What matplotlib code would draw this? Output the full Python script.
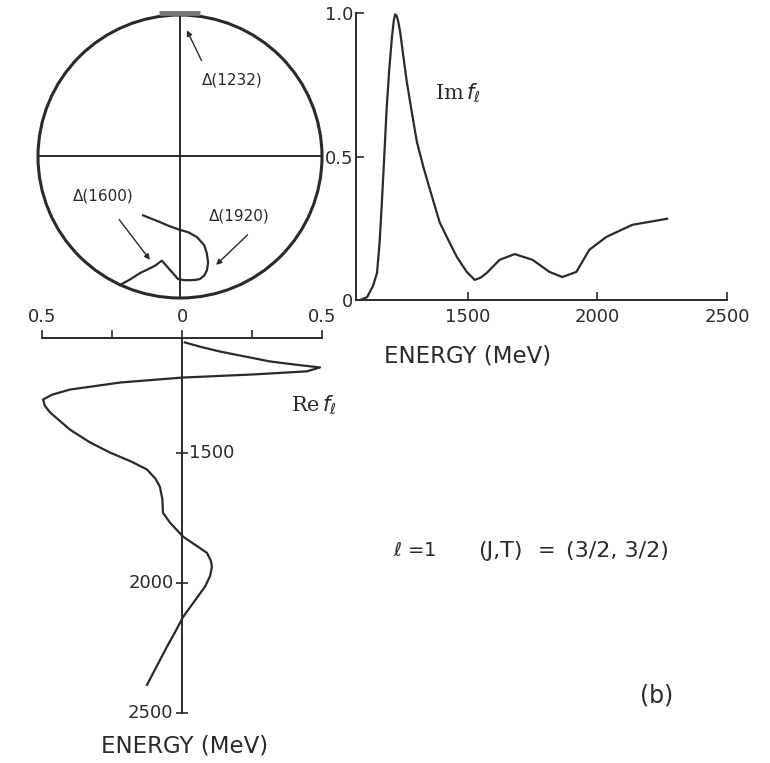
import matplotlib
matplotlib.use("Agg")
import matplotlib.pyplot as plt
from matplotlib.patches import Circle

W, H = 770, 763
ink = "#2a2a2a"

# Im f_l against energy (MeV)
E_im = [1085, 1112, 1135, 1150, 1160, 1168, 1178, 1187, 1197, 1207, 1215, 1220, 1226, 1232,
        1240, 1250, 1265, 1285, 1304, 1330, 1354, 1392, 1430, 1458, 1496, 1527, 1550, 1573,
        1623, 1681, 1750, 1815, 1865, 1919, 1969, 2035, 2135, 2269]
im_vals = [0.0, 0.01, 0.05, 0.094, 0.2, 0.326, 0.5, 0.664, 0.8, 0.91, 0.975, 0.995, 0.99,
           0.97, 0.93, 0.86, 0.76, 0.65, 0.55, 0.46, 0.385, 0.27, 0.2, 0.15, 0.098, 0.07,
           0.078, 0.094, 0.14, 0.16, 0.14, 0.098, 0.08, 0.098, 0.175, 0.22, 0.262, 0.283]

# Re f_l against energy (MeV)
E_re = [1077, 1095, 1112, 1130, 1150, 1163, 1173, 1188, 1200, 1212, 1231, 1258, 1278, 1296,
        1320, 1346, 1412, 1460, 1500, 1535, 1565, 1600, 1631, 1680, 1731, 1769, 1823, 1885,
        1915, 1938, 1975, 2015, 2070, 2131, 2190, 2246, 2320, 2392]
re_vals = [0.01, 0.07, 0.136, 0.22, 0.314, 0.41, 0.493, 0.446, 0.254, 0.0, -0.221, -0.40,
           -0.465, -0.496, -0.49, -0.471, -0.40, -0.33, -0.257, -0.18, -0.125, -0.095,
           -0.079, -0.07, -0.068, -0.043, 0.004, 0.089, 0.103, 0.107, 0.1, 0.082, 0.045,
           0.004, -0.025, -0.054, -0.09, -0.125]

# Argand trace inside the unitarity circle
argand_re = [-0.211, -0.175, -0.141, -0.11, -0.088, -0.064, -0.048, -0.035, -0.02, -0.007,
             0.015, 0.035, 0.055, 0.070, 0.086, 0.095, 0.099, 0.094, 0.085, 0.060, 0.03,
             -0.007, -0.04, -0.070, -0.10, -0.130]
argand_im = [0.046, 0.066, 0.088, 0.103, 0.114, 0.132, 0.114, 0.099, 0.082, 0.067, 0.063,
             0.063, 0.064, 0.067, 0.08, 0.099, 0.125, 0.16, 0.187, 0.215, 0.232, 0.243,
             0.255, 0.268, 0.28, 0.292]

resonances = ["Δ(1232)", "Δ(1600)", "Δ(1920)"]
res_text_pos = [(0.185, 0.77), (-0.27, 0.36), (0.21, 0.29)]
res_arrow_from = [(0.08, 0.83), (-0.22, 0.285), (0.245, 0.23)]
res_arrow_to = [(0.02, 0.955), (-0.10, 0.127), (0.12, 0.11)]


def axes_px(left, top, right, bottom):
    return fig.add_axes([left / W, 1 - bottom / H, (right - left) / W, (bottom - top) / H])


def text_px(x, y, s, **kw):
    fig.text(x / W, 1 - y / H, s, **kw)


fig = plt.figure(figsize=(W / 100, H / 100), dpi=100)
fig.patch.set_facecolor("white")

# ---- Argand diagram
ax_a = axes_px(30, 5, 330, 306)
ax_a.set_xlim((30 - 180) / 284, (330 - 180) / 284)
ax_a.set_ylim((298 - 306) / 283, (298 - 5) / 283)
ax_a.axis("off")
ax_a.add_patch(Circle((0, 0.5), 0.5, fill=False, lw=2.2, ec=ink, clip_on=False))
ax_a.plot([-0.5, 0.5], [0.5, 0.5], color=ink, lw=1.4)
ax_a.plot([0, 0], [0, 1], color=ink, lw=1.4)
ax_a.plot([-0.075, 0.07], [1.006, 1.006], color="#777777", lw=3.5, solid_capstyle="butt")
ax_a.plot(argand_re, argand_im, color=ink, lw=1.6)
for name, tp, a0, a1 in zip(resonances, res_text_pos, res_arrow_from, res_arrow_to):
    ax_a.text(tp[0], tp[1], name, ha="center", va="center", fontsize=11, color=ink)
    ax_a.annotate("", xy=a1, xytext=a0,
                  arrowprops=dict(arrowstyle="-|>", color=ink, lw=1.0, mutation_scale=8))

# ---- Im f_l panel
ax_i = axes_px(356, 13, 727, 300)
ax_i.set_xlim(1069, 2500)
ax_i.set_ylim(0, 1.0)
ax_i.patch.set_alpha(0)
for s in ["top", "right"]:
    ax_i.spines[s].set_visible(False)
for s in ["left", "bottom"]:
    ax_i.spines[s].set_linewidth(1.4)
    ax_i.spines[s].set_color(ink)
ax_i.plot(E_im, im_vals, color=ink, lw=1.6)
ax_i.set_xticks([1500, 2000, 2500])
ax_i.set_xticklabels(["1500", "2000", "2500"])
ax_i.set_yticks([0, 0.5, 1.0])
ax_i.set_yticklabels(["0", "0.5", "1.0"])
ax_i.tick_params(direction="in", length=6, width=1.2, color=ink, labelcolor=ink,
                 labelsize=13)
ax_i.tick_params(axis="y", pad=2)
ax_i.tick_params(axis="x", pad=6)
ax_i.text(1375, 0.72, r"Im$\,f_{\ell}$", fontsize=15, color=ink, family="DejaVu Serif",
          ha="left", va="center")
text_px(468, 356, "ENERGY (MeV)", ha="center", va="center", fontsize=16.5, color=ink)

# ---- Re f_l panel (energy running downwards)
ax_r = axes_px(42, 338, 322, 713)
ax_r.set_xlim(-0.5, 0.5)
ax_r.set_ylim(2500, 1060)
ax_r.patch.set_alpha(0)
for s in ["bottom", "right"]:
    ax_r.spines[s].set_visible(False)
ax_r.spines["left"].set_position(("data", 0))
for s in ["left", "top"]:
    ax_r.spines[s].set_linewidth(1.4)
    ax_r.spines[s].set_color(ink)
ax_r.plot(re_vals, E_re, color=ink, lw=1.6)
ax_r.xaxis.tick_top()
ax_r.set_xticks([-0.5, 0, 0.5])
ax_r.set_xticklabels(["0.5", "0", "0.5"])
ax_r.set_xticks([-0.25, 0.25], minor=True)
ax_r.tick_params(axis="x", which="both", direction="out", length=6, width=1.2,
                 color=ink, labelcolor=ink, labelsize=13, pad=3)
ax_r.set_yticks([1500, 2000, 2500])
ax_r.set_yticklabels([])
ax_r.tick_params(axis="y", direction="inout", length=9, width=1.2, color=ink)
for e, side in zip([1500, 2000, 2500], ["right", "left", "left"]):
    if side == "right":
        ax_r.text(0.025, e, str(e), ha="left", va="center", fontsize=13, color=ink)
    else:
        ax_r.text(-0.03, e, str(e), ha="right", va="center", fontsize=13, color=ink)
ax_r.text(0.39, 1318, r"Re$\,f_{\ell}$", fontsize=15, color=ink, family="DejaVu Serif",
          ha="left", va="center")
text_px(185, 746, "ENERGY (MeV)", ha="center", va="center", fontsize=16.5, color=ink)

# ---- captions
text_px(393, 551, r"$\ell$ =1", ha="left", va="center", fontsize=14, color=ink)
text_px(478, 551, "(J,T)", ha="left", va="center", fontsize=16, color=ink)
text_px(538, 551, "=", ha="left", va="center", fontsize=15, color=ink)
text_px(566, 551, "(3/2, 3/2)", ha="left", va="center", fontsize=16, color=ink)
text_px(657, 695, "(b)", ha="center", va="center", fontsize=17, color=ink)

fig.savefig("out.png", dpi=100, facecolor="white")
